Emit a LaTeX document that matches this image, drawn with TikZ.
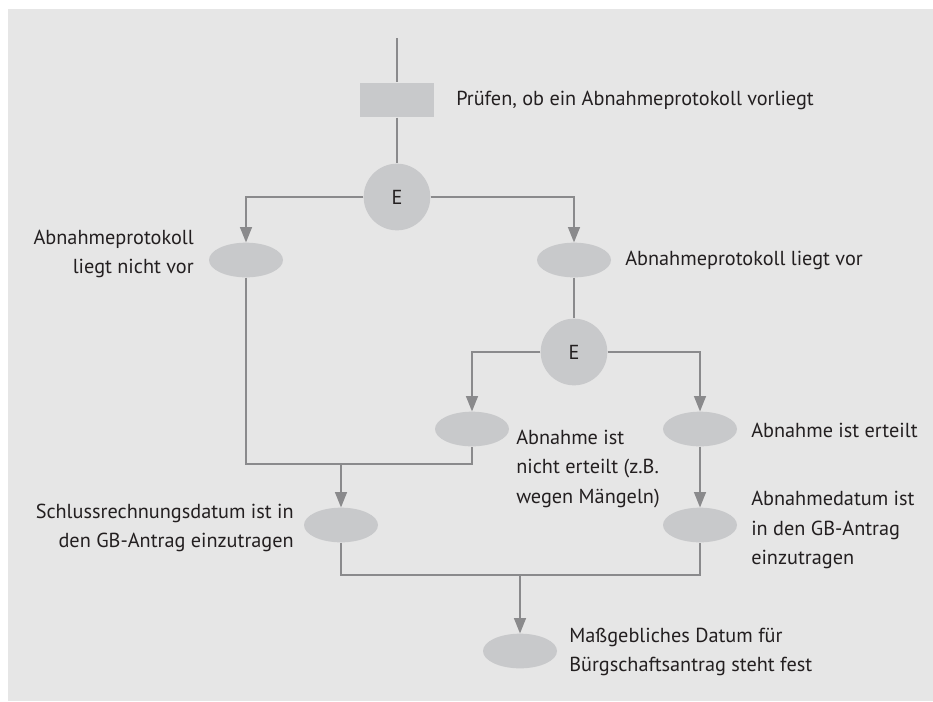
\documentclass[tikz,border=0pt]{standalone}
\usepackage{fontspec}
\setmainfont{PT Sans}
\usetikzlibrary{arrows.meta, positioning, shapes.geometric}
\definecolor{panel}{HTML}{E6E6E6}
\definecolor{shapefill}{HTML}{C8C9CB}
\definecolor{linegray}{HTML}{8A8A8C}
\definecolor{textdark}{HTML}{231F20}

\begin{document}
\begin{tikzpicture}[
    x=0.75pt, y=-0.75pt,
    every node/.style={font=\fontsize{15.2}{22}\selectfont, text=textdark},
    link/.style={draw=linegray, line width=1pt},
    flow/.style={link, -{Triangle[width=9pt, length=11.5pt]}, color=linegray},
    taskbox/.style={rectangle, fill=shapefill, minimum width=55.5pt, minimum height=26pt, inner sep=0pt},
    decision/.style={circle, fill=shapefill, minimum size=50pt, inner sep=0pt},
    event/.style={ellipse, fill=shapefill, minimum width=55.5pt, minimum height=26pt, inner sep=0pt},
    leftlabel/.style={anchor=east, align=right, inner sep=0pt},
    rightlabel/.style={anchor=west, align=left, inner sep=0pt},
]
\useasboundingbox (0,0) rectangle (933,701);
\fill[panel] (8,9) rectangle (933,701);
% shapes
\coordinate (start) at (397,38);
\node[taskbox] (check) at (397,100) {};
\node[decision] (dec1) at (397,197) {E};
\node[event] (nopro) at (246,260) {};
\node[event] (pro) at (574,260) {};
\node[decision] (dec2) at (574,352) {E};
\node[event] (noacc) at (472,429) {};
\node[event] (acc) at (700,429) {};
\node[event] (final) at (341,525) {};
\node[event] (accdate) at (700,525) {};
\node[event] (fixed) at (520,651) {};
\coordinate (join1) at (341,464);
\coordinate (join2) at (520,575);
% labels
\node[rightlabel] (lcheck) at (456,100) {Prüfen, ob ein Abnahmeprotokoll vorliegt};
\node[leftlabel] (lnopro) at (194,254) {Abnahmeprotokoll\\liegt nicht vor};
\node[rightlabel] (lpro) at (625,260) {Abnahmeprotokoll liegt vor};
\node[rightlabel] (lnoacc) at (516,469) {Abnahme ist\\nicht erteilt (z.B.\\wegen Mängeln)};
\node[rightlabel] (lacc) at (751,430) {Abnahme ist erteilt};
\node[leftlabel] (lfinal) at (294,528) {Schlussrechnungsdatum ist in\\den GB-Antrag einzutragen};
\node[rightlabel] (laccdate) at (751,530) {Abnahmedatum ist\\in den GB-Antrag\\einzutragen};
\node[rightlabel] (lfixed) at (569,652) {Maßgebliches Datum für\\Bürgschaftsantrag steht fest};
% connectors
\draw[link] (start) -- (check);
\draw[link] (check) -- (dec1);
\draw[flow] (dec1.west) -| (nopro.north);
\draw[flow] (dec1.east) -| (pro.north);
\draw[link] (pro) -- (dec2);
\draw[flow] (dec2.west) -| (noacc.north);
\draw[flow] (dec2.east) -| (acc.north);
\draw[flow] (acc) -- (accdate);
\draw[link] (nopro.south) |- (join1) -| (noacc.south);
\draw[flow] (join1) -- (final.north);
\draw[link] (final.south) |- (join2) -| (accdate.south);
\draw[flow] (join2) -- (fixed.north);
\end{tikzpicture}
\end{document}
